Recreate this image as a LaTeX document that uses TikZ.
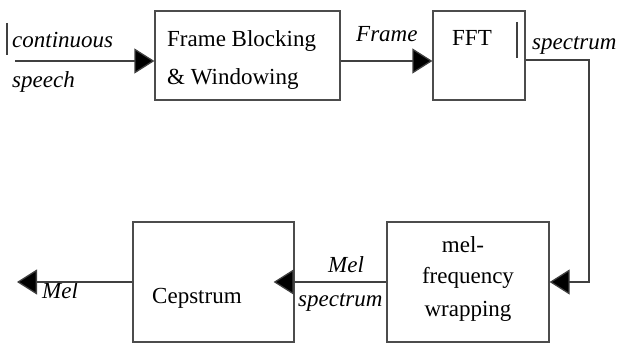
\documentclass[tikz,border=0pt]{standalone}
\usepackage{fontspec}
\setmainfont{Liberation Serif}
\usetikzlibrary{arrows.meta}
\begin{document}
\begin{tikzpicture}[x=1pt,y=-1pt,
  box/.style={draw=black!70,line width=1.3pt,rectangle,inner sep=0pt},
  conn/.style={draw=black!75,line width=1.3pt},
  arr/.style={conn,-{Triangle[length=20pt,width=25pt,fill=black]}},
  lbl/.style={font=\fontsize{23}{28}\selectfont,inner sep=0pt,anchor=base west},
  ilbl/.style={font=\fontsize{23}{28}\selectfont\itshape,inner sep=0pt,anchor=base west},
  clbl/.style={font=\fontsize{23}{28}\selectfont,inner sep=0pt,anchor=base}]
\useasboundingbox (0,0) rectangle (620,347);
\fill[white] (0,0) rectangle (620,347);
% boxes
\node[box,minimum width=185pt,minimum height=89pt] (fb) at (247.5,55.5) {};
\node[box,minimum width=92pt,minimum height=89pt] (fft) at (479,55.5) {};
\node[box,minimum width=162pt,minimum height=120pt] (mel) at (468,282) {};
\node[box,minimum width=161pt,minimum height=120pt] (cep) at (213.5,282) {};
% texts
\node[lbl] (t1) at (167,47) {Frame Blocking};
\node[lbl] (t2) at (167,85) {\& Windowing};
\node[lbl] (t3) at (452,46) {FFT};
\node[clbl] (t4) at (463,252) {mel-};
\node[clbl] (t5) at (468,283) {frequency};
\node[clbl] (t6) at (468,316) {wrapping};
\node[lbl] (t7) at (152,303) {Cepstrum};
\node[ilbl] (l1) at (12,48) {continuous};
\node[ilbl] (l2) at (12,88) {speech};
\node[ilbl] (l3) at (356,42) {Frame};
\node[ilbl] (l4) at (532,50) {spectrum};
\node[ilbl] (l5) at (328,272) {Mel};
\node[ilbl] (l6) at (298,306) {spectrum};
\node[ilbl] (l7) at (42,298) {Mel};
% cursor-like bars
\draw[conn,line width=1.2pt] (7,23) -- (7,55);
\draw[conn,line width=1.2pt] (517,22) -- (517,58);
% connectors
\coordinate (in) at (15,61);
\coordinate (turn) at (589,60);
\coordinate (out) at (17,282);
\draw[arr] (in) -- (in -| fb.west);
\draw[arr] (fb.east |- in) -- (fft.west |- in);
\draw[arr] (fft.east |- turn) -- (turn) -- (turn |- mel.east) -- (mel.east);
\draw[arr] (mel.west) -- ([xshift=-21pt]cep.east);
\draw[arr] (cep.west) -- (out);
\end{tikzpicture}
\end{document}
